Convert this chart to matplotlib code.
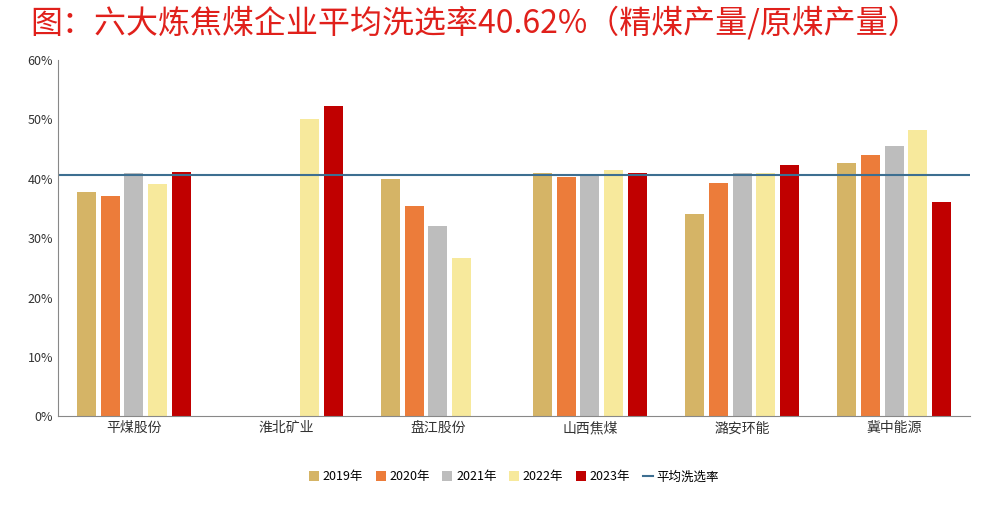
import matplotlib.pyplot as plt
import numpy as np
plt.rcParams['font.family'] = ['Noto Sans CJK SC', 'DejaVu Sans']

companies = ['平煤股份', '淮北矿业', '盘江股份', '山西焦煤', '潞安环能', '冀中能源']
years = ['2019年', '2020年', '2021年', '2022年', '2023年']
v2019 = [37.7, np.nan, 40.0, 40.9, 34.1, 42.6]
v2020 = [37.1, np.nan, 35.4, 40.3, 39.3, 44.0]
v2021 = [41.0, np.nan, 32.0, 40.6, 41.0, 45.6]
v2022 = [39.1, 50.1, 26.7, 41.5, 41.0, 48.2]
v2023 = [41.1, 52.3, np.nan, 40.9, 42.4, 36.1]
avg = 40.62
colors = ['#D5B466', '#EC7C3A', '#BDBDBD', '#F7E99C', '#C00000']

fig = plt.figure(figsize=(9.97, 5.09), dpi=100)
fig.text(0.03, 0.955, '图：六大炼焦煤企业平均洗选率40.62%（精煤产量/原煤产量）',
         color='#E0201B', fontsize=23, va='center')
ax = fig.add_axes([0.058, 0.182, 0.915, 0.7])
x = np.arange(len(companies))
w = 0.125
for i, (vals, c, lab) in enumerate(zip([v2019, v2020, v2021, v2022, v2023], colors, years)):
    ax.bar(x + (i - 2) * w * 1.25, vals, w, color=c, label=lab)
ax.axhline(avg, color='#3D6F91', lw=1.5, label='平均洗选率')
ax.set_xlim(-0.5, 5.5)
ax.set_ylim(0, 60)
ax.set_yticks(range(0, 61, 10))
ax.set_yticklabels([f'{t}%' for t in range(0, 61, 10)], fontsize=9, color='#333333')
ax.set_xticks(x)
ax.set_xticklabels(companies, fontsize=10, color='#333333')
for s in ['top', 'right']:
    ax.spines[s].set_visible(False)
ax.spines['left'].set_color('#888888')
ax.spines['bottom'].set_color('#888888')
ax.tick_params(axis='x', length=0)
ax.tick_params(axis='y', length=0)
h, l = ax.get_legend_handles_labels()
h = h[1:] + h[:1]; l = l[1:] + l[:1]
ax.legend(h, l, loc='upper center', bbox_to_anchor=(0.5, -0.12), ncol=6, frameon=False,
          fontsize=9, handlelength=0.8, handleheight=0.8, columnspacing=1.0, handletextpad=0.3)
fig.savefig('out.png')
